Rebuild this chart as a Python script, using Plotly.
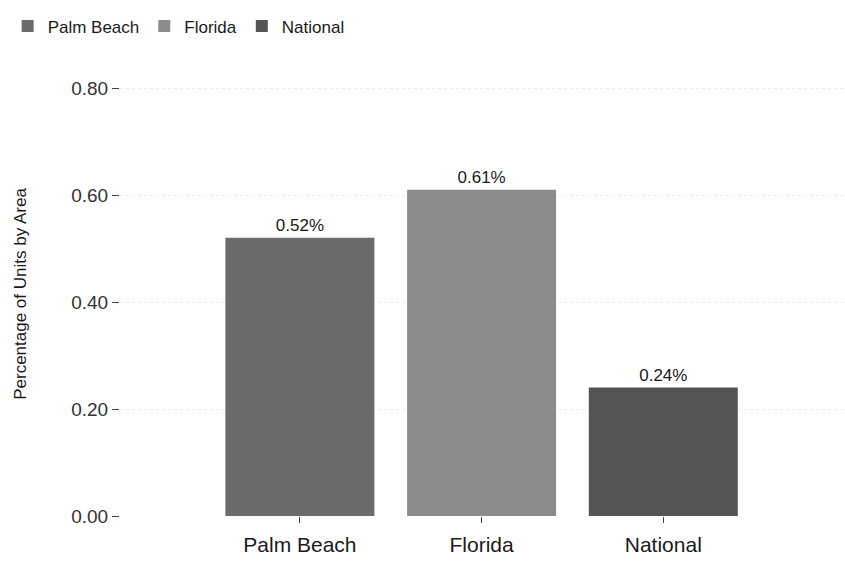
import plotly.graph_objects as go

categories = ["Palm Beach", "Florida", "National"]
values = [0.52, 0.61, 0.24]
labels = ["0.52%", "0.61%", "0.24%"]
colors = ["#6b6b6b", "#8c8c8c", "#545454"]
y_ticks = [0.0, 0.2, 0.4, 0.6, 0.8]
y_tick_text = ["0.00", "0.20", "0.40", "0.60", "0.80"]

fig = go.Figure()
for c, v, t, col in zip(categories, values, labels, colors):
    fig.add_trace(go.Bar(
        x=[c], y=[v], name=c, text=[t], textposition="outside",
        textfont=dict(size=17, color="#1a1a1a"),
        marker=dict(color=col, line=dict(width=0)),
        width=0.82, cliponaxis=False,
    ))

fig.update_layout(
    width=845, height=565,
    margin=dict(l=120, r=0, t=72, b=49),
    paper_bgcolor="white", plot_bgcolor="white",
    font=dict(family="Liberation Sans, Arial, sans-serif", color="#333333"),
    showlegend=True,
    legend=dict(orientation="h", x=-0.155, xref="paper", y=0.985, yref="container",
                xanchor="left", yanchor="top", font=dict(size=17, color="#1a1a1a"),
                traceorder="normal"),
    barmode="overlay",
)
fig.update_xaxes(
    type="category", categoryorder="array", categoryarray=categories,
    range=[-0.99, 3.0], showgrid=False, showline=False, zeroline=False,
    ticks="outside", ticklen=6, tickcolor="#444444", ticklabelstandoff=4,
    tickfont=dict(size=21, color="#1a1a1a"),
)
fig.update_yaxes(
    range=[0, 0.83], tickvals=y_ticks, ticktext=y_tick_text,
    showgrid=True, gridcolor="#eaeaea", griddash="dot", gridwidth=1,
    zeroline=False, showline=False,
    ticks="outside", ticklen=7, tickcolor="#444444",
    tickfont=dict(size=19, color="#333333"),
    title=dict(text="Percentage of Units by Area", font=dict(size=17, color="#1a1a1a"), standoff=40),
)

fig.write_html("out.html")
